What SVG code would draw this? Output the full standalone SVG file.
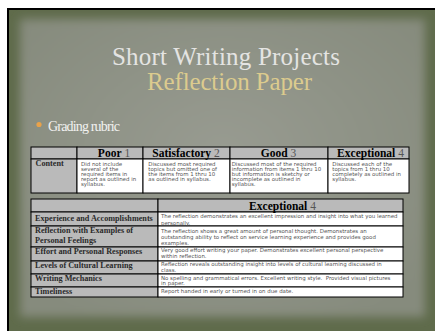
<svg xmlns="http://www.w3.org/2000/svg" width="436" height="332" viewBox="0 0 436 332">
<style>
.hd{font-family:"Liberation Serif","Times New Roman",serif;font-weight:bold;font-size:11.5px;fill:#000;text-anchor:middle}
.num{font-weight:normal;fill:#555}
.lbl{font-family:"Liberation Serif","Times New Roman",serif;font-weight:bold;font-size:8.2px;fill:#2a2a2a}
.dt{font-family:"DejaVu Sans",Verdana,sans-serif;font-size:5.45px;fill:#555}
.g{fill:#bababa;stroke:#000;stroke-width:1}
.w{fill:#fff;stroke:#000;stroke-width:1}
.ttl{font-family:"Liberation Serif","Times New Roman",serif;font-size:25px;text-anchor:middle}
</style>
<defs>
<filter id="soft" x="-10%" y="-10%" width="120%" height="120%"><feGaussianBlur stdDeviation="5"/></filter>
<radialGradient id="pan" cx="0.5" cy="0.45" r="0.65">
<stop offset="0" stop-color="#989b91"/>
<stop offset="1" stop-color="#868b7d"/>
</radialGradient>
</defs>
<rect width="436" height="332" fill="#fff"/>
<rect x="7" y="8" width="428" height="323" fill="#000"/>
<g id="slide-background">
<rect x="9" y="10" width="426" height="321" fill="#5f6b4b"/>
<rect x="20" y="19" width="405" height="298" fill="url(#pan)" filter="url(#soft)"/>
</g>
<g id="title">
<text class="ttl" x="226" y="65" fill="#e4e4e2" textLength="228">Short Writing Projects</text>
<text class="ttl" x="229.5" y="90" fill="#dccb8e" textLength="165">Reflection Paper</text>
</g>
<g id="bullet">
<circle cx="39" cy="124.5" r="2.6" fill="#e9a24a"/>
<text x="48" y="130.5" font-family="'Liberation Serif',serif" font-size="14" fill="#f2f2f0" textLength="72">Grading rubric</text>
</g>
<g id="table-content">
<rect class="g" x="31" y="147" width="46" height="12"/>
<rect class="g" x="77" y="147" width="66" height="12"/>
<rect class="g" x="143" y="147" width="87" height="12"/>
<rect class="g" x="230" y="147" width="98" height="12"/>
<rect class="g" x="328" y="147" width="81" height="12"/>
<rect class="g" x="31" y="159" width="46" height="34"/>
<rect class="w" x="77" y="159" width="66" height="34"/>
<rect class="w" x="143" y="159" width="87" height="34"/>
<rect class="w" x="230" y="159" width="98" height="34"/>
<rect class="w" x="328" y="159" width="81" height="34"/>
<text class="hd" x="114" y="157.3">Poor<tspan class="num"> 1</tspan></text>
<text class="hd" x="186" y="157.3">Satisfactory<tspan class="num"> 2</tspan></text>
<text class="hd" x="278.5" y="157.3">Good<tspan class="num"> 3</tspan></text>
<text class="hd" x="370.5" y="157.3">Exceptional<tspan class="num"> 4</tspan></text>
<text class="lbl" x="35.5" y="166.2">Content</text>
<text class="dt"><tspan x="81" y="165.5">Did not include</tspan><tspan x="81" y="170.5">several of the</tspan><tspan x="81" y="175.5">required items in</tspan><tspan x="81" y="180.5">report as outlined in</tspan><tspan x="81" y="185.5">syllabus.</tspan></text>
<text class="dt"><tspan x="148.3" y="165.5">Discussed most required</tspan><tspan x="148.3" y="170.5">topics but omitted one of</tspan><tspan x="148.3" y="175.5">the items from 1 thru 10</tspan><tspan x="148.3" y="180.5">as outlined in syllabus.</tspan></text>
<text class="dt"><tspan x="231.7" y="165.5">Discussed most of the required</tspan><tspan x="231.7" y="170.5">information from items 1 thru 10</tspan><tspan x="231.7" y="175.5">but information is sketchy or</tspan><tspan x="231.7" y="180.5">incomplete as outlined in</tspan><tspan x="231.7" y="185.5">syllabus.</tspan></text>
<text class="dt"><tspan x="332.3" y="165.5">Discussed each of the</tspan><tspan x="332.3" y="170.5">topics from 1 thru 10</tspan><tspan x="332.3" y="175.5">completely as outlined in</tspan><tspan x="332.3" y="180.5">syllabus.</tspan></text>
</g>
<g id="table-criteria">
<rect class="g" x="31" y="199" width="127" height="13"/>
<rect class="g" x="158" y="199" width="245" height="13"/>
<rect class="g" x="31" y="212" width="127" height="14"/>
<rect class="w" x="158" y="212" width="245" height="14"/>
<rect class="g" x="31" y="226" width="127" height="21"/>
<rect class="w" x="158" y="226" width="245" height="21"/>
<rect class="g" x="31" y="247" width="127" height="14"/>
<rect class="w" x="158" y="247" width="245" height="14"/>
<rect class="g" x="31" y="261" width="127" height="13"/>
<rect class="w" x="158" y="261" width="245" height="13"/>
<rect class="g" x="31" y="274" width="127" height="13"/>
<rect class="w" x="158" y="274" width="245" height="13"/>
<rect class="g" x="31" y="287" width="127" height="10"/>
<rect class="w" x="158" y="287" width="245" height="10"/>
<text class="hd" x="282.5" y="210" font-size="12">Exceptional<tspan class="num"> 4</tspan></text>
<text class="lbl" x="35" y="221">Experience and Accomplishments</text>
<text class="lbl" x="35" y="232.7">Reflection with Examples of</text>
<text class="lbl" x="35" y="242.7">Personal Feelings</text>
<text class="lbl" x="35" y="253.7">Effort and Personal Responses</text>
<text class="lbl" x="35" y="267.5">Levels of Cultural Learning</text>
<text class="lbl" x="35" y="281.3">Writing Mechanics</text>
<text class="lbl" x="35" y="294">Timeliness</text>
<text class="dt"><tspan x="161" y="218.2">The reflection demonstrates an excellent impression and insight into what you learned</tspan><tspan x="161" y="224.9">personally.</tspan></text>
<text class="dt"><tspan x="161" y="232.5">The reflection shows a great amount of personal thought. Demonstrates an</tspan><tspan x="161" y="239">outstanding ability to reflect on service learning experience and provides good</tspan><tspan x="161" y="245.3">examples.</tspan></text>
<text class="dt"><tspan x="161" y="252.2">Very good effort writing your paper. Demonstrates excellent personal perspective</tspan><tspan x="161" y="257.6">within reflection.</tspan></text>
<text class="dt"><tspan x="161" y="265.8">Reflection reveals outstanding insight into levels of cultural learning discussed in</tspan><tspan x="161" y="272.2">class.</tspan></text>
<text class="dt" xml:space="preserve"><tspan x="161" y="279.8">No spelling and grammatical errors. Excellent writing style.  Provided visual pictures</tspan><tspan x="161" y="285.2">in paper.</tspan></text>
<text class="dt"><tspan x="161" y="292.8">Report handed in early or turned in on due date.</tspan></text>
</g>
</svg>
